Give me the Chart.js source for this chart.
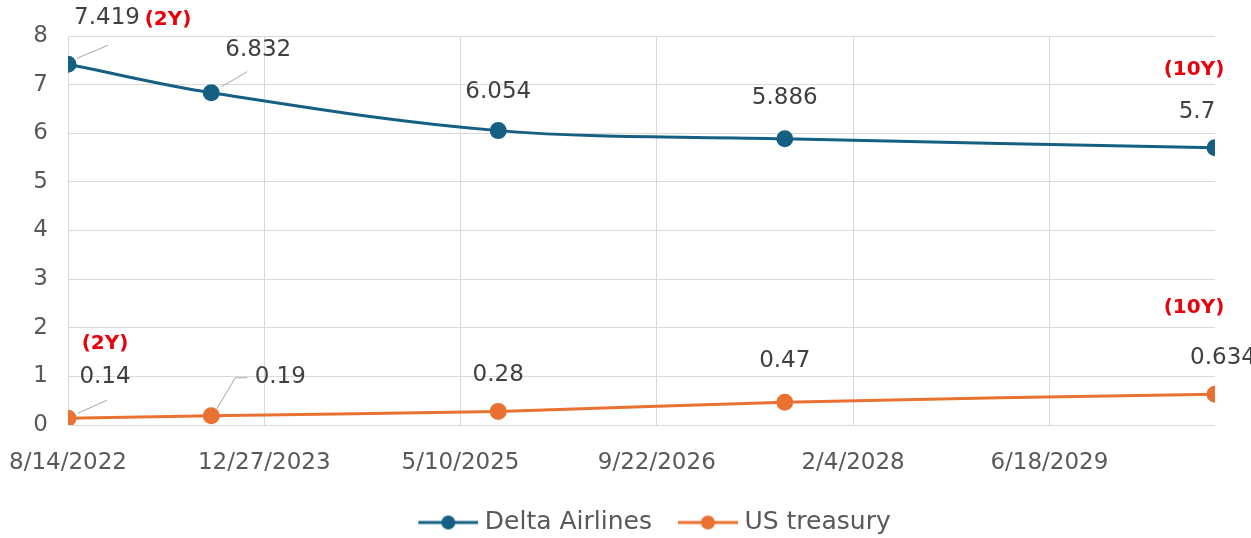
<!DOCTYPE html>
<html>
<head>
<meta charset="utf-8">
<script src="https://cdn.jsdelivr.net/npm/chart.js@4/dist/chart.umd.min.js"></script>
<style>
  html, body { margin: 0; padding: 0; background: #fff; }
  #wrap { width: 1251px; height: 538px; }
</style>
</head>
<body>
<div id="wrap"><canvas id="chart"></canvas></div>
<script>
// data
const maturityDates = ['2022-08-14', '2023-08-14', '2025-08-14', '2027-08-14', '2030-08-14'];
const tenors = ['2Y', '3Y', '5Y', '7Y', '10Y'];
const deltaYields = [7.419, 6.832, 6.054, 5.886, 5.7];
const treasuryYields = [0.14, 0.19, 0.28, 0.47, 0.634];
const xTickLabels = ['8/14/2022', '12/27/2023', '5/10/2025', '9/22/2026', '2/4/2028', '6/18/2029'];
const xTickStepDays = 500;
const yMin = 0, yMax = 8, yStep = 1;

const DELTA = '#156082';
const TREASURY = '#E97132';
const FONT = 'DejaVu Sans';

// days since first maturity date, used as linear x
const baseDay = Date.parse(maturityDates[0]);
const toDays = s => (Date.parse(s) - baseDay) / 864e5;
const xs = maturityDates.map(toDays);

// label placement (pixel offsets from each point)
const valueOffsets = [
  [[39, -46], [47, -43], [0, -39], [0, -41], [-18, -36]],
  [[37, -41], [69, -39], [0, -36], [0, -41], [8, -36]]
];
const tenorOffsets = [
  { 0: [100, -44], 4: [-21, -78] },
  { 0: [37, -74], 4: [-21, -86] }
];
const leaderLines = [
  { 0: [[9, -6], [40, -19]], 1: [[10, -6], [36, -21]] },
  { 0: [[10, -5], [39, -18]], 1: [[5, -6], [24, -38], [36, -38]] }
];

function legendIcon(color) {
  const c = document.createElement('canvas');
  c.width = 92; c.height = 16;
  const g = c.getContext('2d');
  g.strokeStyle = color; g.lineWidth = 3;
  g.beginPath(); g.moveTo(32, 8); g.lineTo(92, 8); g.stroke();
  g.fillStyle = color;
  g.beginPath(); g.arc(62, 8, 7, 0, Math.PI * 2); g.fill();
  return c;
}
const legendIcons = [legendIcon(DELTA), legendIcon(TREASURY)];

const pointLabels = {
  id: 'pointLabels',
  afterDatasetsDraw(chart) {
    const ctx = chart.ctx;
    ctx.save();
    ctx.textAlign = 'center';
    ctx.textBaseline = 'middle';
    chart.data.datasets.forEach((ds, di) => {
      const meta = chart.getDatasetMeta(di);
      meta.data.forEach((pt, i) => {
        const lines = leaderLines[di][i];
        if (lines) {
          ctx.strokeStyle = '#A6A6A6';
          ctx.lineWidth = 1;
          ctx.beginPath();
          lines.forEach((p, k) => k ? ctx.lineTo(pt.x + p[0], pt.y + p[1]) : ctx.moveTo(pt.x + p[0], pt.y + p[1]));
          ctx.stroke();
        }
        const o = valueOffsets[di][i];
        ctx.fillStyle = '#404040';
        ctx.font = '23px "' + FONT + '"';
        ctx.fillText(String(ds.data[i].y), pt.x + o[0], pt.y + o[1]);
        const t = tenorOffsets[di][i];
        if (t) {
          ctx.fillStyle = '#E8000B';
          ctx.font = 'bold 20px "' + FONT + '"';
          ctx.fillText('(' + tenors[i] + ')', pt.x + t[0], pt.y + t[1]);
        }
      });
    });
    ctx.restore();
  }
};

new Chart(document.getElementById('chart'), {
  type: 'line',
  data: {
    datasets: [{
      label: 'Delta Airlines',
      data: xs.map((x, i) => ({ x, y: deltaYields[i] })),
      borderColor: DELTA,
      backgroundColor: DELTA,
      borderWidth: 3,
      pointRadius: 7,
      pointHoverRadius: 7,
      tension: 0.35
    }, {
      label: 'US treasury',
      data: xs.map((x, i) => ({ x, y: treasuryYields[i] })),
      borderColor: TREASURY,
      backgroundColor: TREASURY,
      borderWidth: 3,
      pointRadius: 7,
      pointHoverRadius: 7,
      tension: 0.35
    }]
  },
  options: {
    responsive: true,
    maintainAspectRatio: false,
    animation: false,
    layout: { padding: { top: 36, right: 36, left: 0, bottom: -7 } },
    plugins: {
      tooltip: { enabled: false },
      legend: {
        position: 'bottom',
        fullSize: false,
        labels: {
          usePointStyle: true,
          pointStyleWidth: 80,
          padding: 0,
          color: '#595959',
          font: { family: FONT, size: 25 },
          generateLabels(chart) {
            const items = Chart.defaults.plugins.legend.labels.generateLabels(chart);
            items.forEach((it, i) => { it.pointStyle = legendIcons[i]; });
            return items;
          }
        }
      }
    },
    scales: {
      x: {
        type: 'linear',
        min: 0,
        max: xs[xs.length - 1],
        border: { display: false },
        grid: { color: '#D9D9D9', drawTicks: false },
        afterBuildTicks(scale) {
          // one tick every 500 days, as on the original date axis
          scale.ticks = xTickLabels.map((_, i) => ({ value: i * xTickStepDays }));
        },
        afterFit(scale) {
          scale.height = 85;
          scale.paddingLeft = 0;
          scale.paddingRight = 0;
        },
        ticks: {
          padding: 24,
          color: '#595959',
          font: { family: FONT, size: 23 },
          maxRotation: 0,
          autoSkip: false,
          callback: (v, i) => xTickLabels[i] || ''
        }
      },
      y: {
        min: yMin,
        max: yMax,
        border: { display: false },
        grid: { color: '#D9D9D9', drawTicks: false },
        ticks: {
          stepSize: yStep,
          padding: 20,
          color: '#595959',
          font: { family: FONT, size: 23 }
        },
        afterFit(scale) { scale.width = 68; }
      }
    }
  },
  plugins: [pointLabels]
});
</script>
</body>
</html>
